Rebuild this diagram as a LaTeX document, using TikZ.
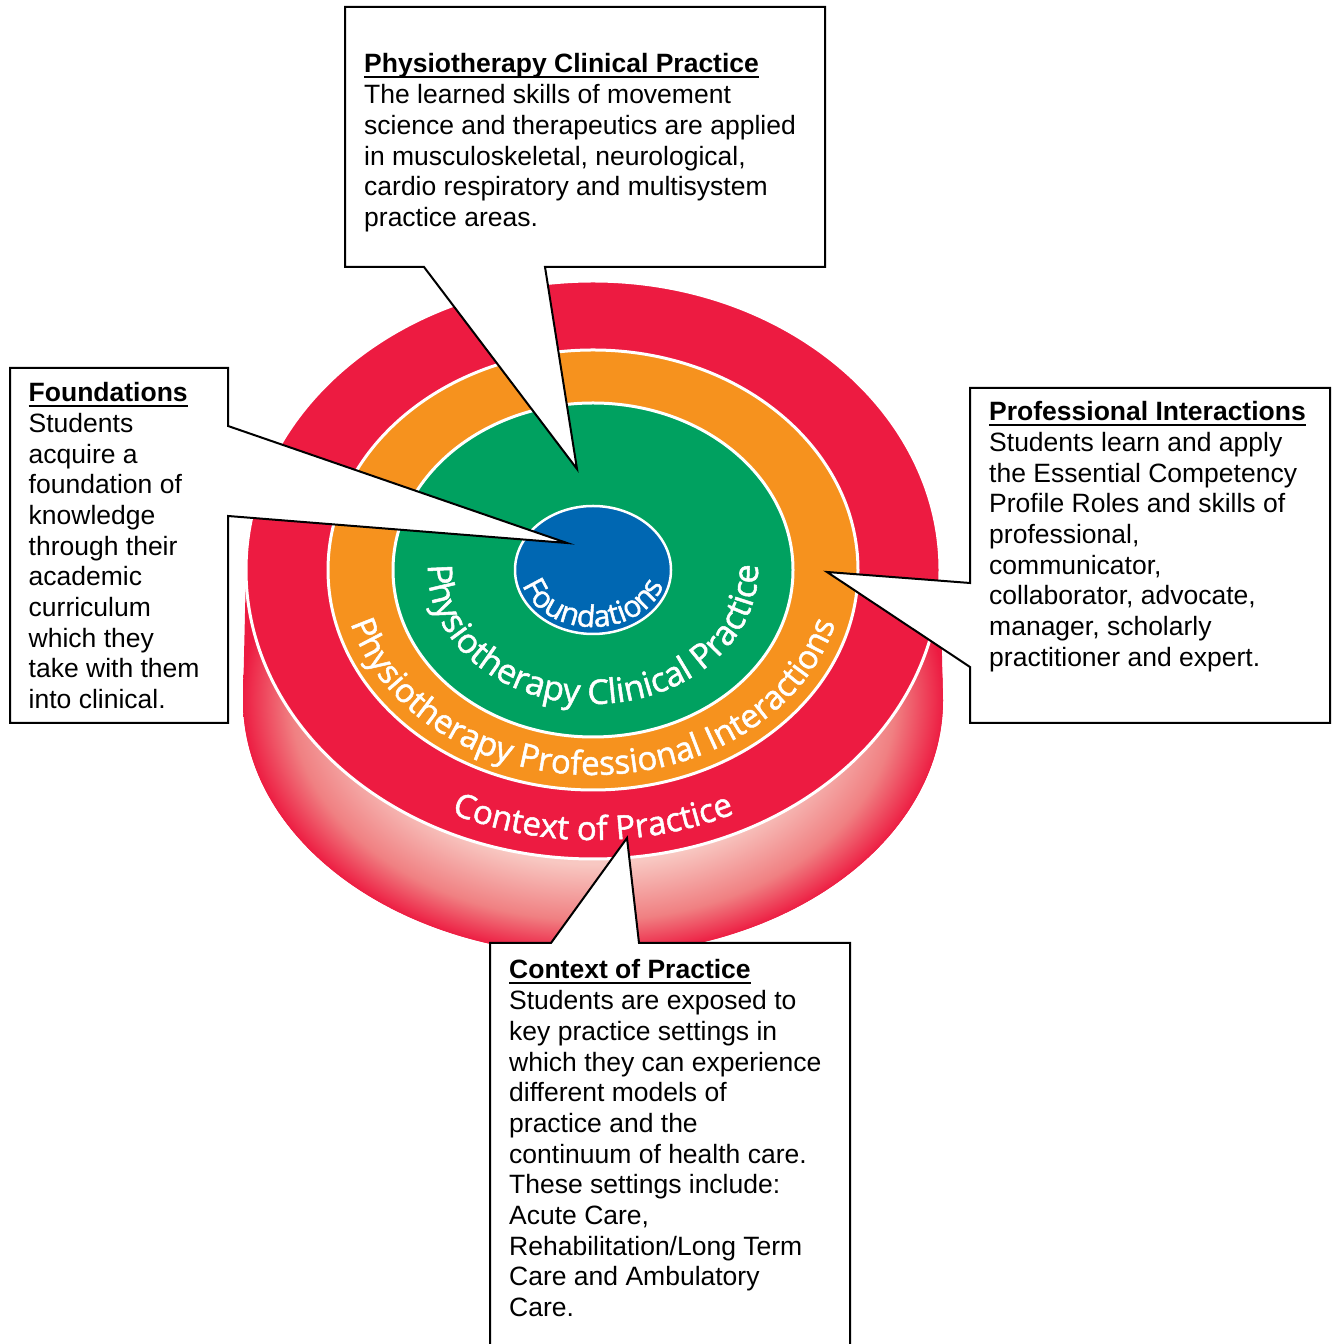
\documentclass[tikz,border=0pt]{standalone}
\usepackage{fontspec}
\setmainfont{Liberation Sans}
\newfontfamily\ringfont{Open Sans}[FakeBold=1.5]
\usetikzlibrary{decorations.text}
\definecolor{redC}{RGB}{237,27,65}
\definecolor{orangeC}{RGB}{246,146,30}
\definecolor{greenC}{RGB}{0,161,96}
\definecolor{blueC}{RGB}{0,103,178}
\definecolor{pinkL}{RGB}{248,200,194}
\definecolor{pinkM}{RGB}{240,128,130}
\pgfdeclareradialshading{sideshade}{\pgfpoint{0bp}{0bp}}{color(0bp)=(pinkL); color(16bp)=(pinkL); color(21.5bp)=(pinkM); color(25bp)=(redC); color(50bp)=(redC)}
\newcommand\hd[1]{\setbox0\hbox{\bfseries #1}\rlap{\rule[-5.5pt]{\wd0}{2.2pt}}\box0}
\begin{document}
\begin{tikzpicture}[x=1pt,y=1pt,
  callout/.style={fill=white,draw=black,line width=2pt,line join=miter},
  ring/.style={draw=white,line width=3pt},
  txt/.style={anchor=base west,inner sep=0pt,font=\fontsize{26.5}{30.7}\selectfont},
  ringtext/.style={decorate,decoration={text along path,text align=center,text color=white,text={#1}}}]
\useasboundingbox (0,0) rectangle (1336,1344);
\clip (0,0) rectangle (1336,1344);
\coordinate (C) at (593,774);
\coordinate (Cb) at (593,644);
% cylinder side
\begin{scope}
\clip (246,774) -- (243,644) arc[start angle=180,end angle=360,x radius=350,y radius=255] -- (940,774) -- cycle;
\fill[redC] (200,350) rectangle (1000,800);
\shade[shading=sideshade] (Cb) ellipse [x radius=351,y radius=256];
\end{scope}
% top surface and rings
\filldraw[ring,fill=redC] (C) ellipse [x radius=347,y radius=289];
\filldraw[ring,fill=orangeC] (C) ellipse [x radius=265,y radius=220];
\filldraw[ring,fill=greenC] (C) ellipse [x radius=200,y radius=167];
\filldraw[ring,fill=blueC,line width=2.5pt] (C) ellipse [x radius=78,y radius=64];
% ring labels
\path[ringtext={|\ringfont\fontsize{30}{30}\selectfont|Foundations}]
  ([shift={(150:73 and 57)}]C) arc[start angle=150,end angle=390,x radius=73,y radius=57];
\path[ringtext={|\ringfont\fontsize{34}{34}\selectfont|Physiotherapy Clinical Practice}]
  ([shift={(140:165 and 134)}]C) arc[start angle=140,end angle=400,x radius=165,y radius=134];
\path[ringtext={|\ringfont\fontsize{33}{33}\selectfont|Physiotherapy Professional Interactions}]
  ([shift={(140:251 and 205)}]C) arc[start angle=140,end angle=400,x radius=251,y radius=205];
\path[ringtext={|\ringfont\fontsize{33}{33}\selectfont|Context of Practice}]
  ([shift={(200:328 and 270)}]C) arc[start angle=200,end angle=340,x radius=328,y radius=270];
% callout geometry
\coordinate (tTL) at (345,1337); \coordinate (tTR) at (825,1337);
\coordinate (tBR) at (825,1077); \coordinate (tPR) at (545,1077);
\coordinate (tTip) at (577,875); \coordinate (tPL) at (424,1077);
\coordinate (tBL) at (345,1077);
\coordinate (lTL) at (10,976); \coordinate (lTR) at (228,976);
\coordinate (lPU) at (228,918); \coordinate (lTip) at (567,801);
\coordinate (lPD) at (228,828); \coordinate (lBR) at (228,621);
\coordinate (lBL) at (10,621);
\coordinate (rTL) at (970,956); \coordinate (rTR) at (1330,956);
\coordinate (rBR) at (1330,621); \coordinate (rBL) at (970,621);
\coordinate (rPD) at (970,677); \coordinate (rTip) at (827,772);
\coordinate (rPU) at (970,761);
\coordinate (bTL) at (490,401); \coordinate (bPL) at (551,401);
\coordinate (bTip) at (627,506); \coordinate (bPR) at (639,401);
\coordinate (bTR) at (850,401); \coordinate (bBR) at (850,-10);
\coordinate (bBL) at (490,-10);
\draw[callout] (tTL) -- (tTR) -- (tBR) -- (tPR) -- (tTip) -- (tPL) -- (tBL) -- cycle;
\draw[callout] (lTL) -- (lTR) -- (lPU) -- (lTip) -- (lPD) -- (lBR) -- (lBL) -- cycle;
\draw[callout] (rTL) -- (rTR) -- (rBR) -- (rBL) -- (rPD) -- (rTip) -- (rPU) -- cycle;
\draw[callout] (bTL) -- (bPL) -- (bTip) -- (bPR) -- (bTR) -- (bBR) -- (bBL) -- cycle;
% callout texts
\node[txt] (toptxt) at (364,1271) {\begin{tabular}[t]{@{}l@{}}
\hd{Physiotherapy Clinical Practice}\\
The learned skills of movement\\
science and therapeutics are applied\\
in musculoskeletal, neurological,\\
cardio respiratory and multisystem\\
practice areas.\end{tabular}};
\node[txt] (lefttxt) at (28.5,942.3) {\begin{tabular}[t]{@{}l@{}}
\hd{Foundations}\\
Students\\
acquire a\\
foundation of\\
knowledge\\
through their\\
academic\\
curriculum\\
which they\\
take with them\\
into clinical.\end{tabular}};
\node[txt] (righttxt) at (989,923.3) {\begin{tabular}[t]{@{}l@{}}
\hd{Professional Interactions}\\
Students learn and apply\\
the Essential Competency\\
Profile Roles and skills of\\
professional,\\
communicator,\\
collaborator, advocate,\\
manager, scholarly\\
practitioner and expert.\end{tabular}};
\node[txt] (bottxt) at (509,365) {\begin{tabular}[t]{@{}l@{}}
\hd{Context of Practice}\\
Students are exposed to\\
key practice settings in\\
which they can experience\\
different models of\\
practice and the\\
continuum of health care.\\
These settings include:\\
Acute Care,\\
Rehabilitation/Long Term\\
Care and Ambulatory\\
Care.\end{tabular}};
\end{tikzpicture}
\end{document}
